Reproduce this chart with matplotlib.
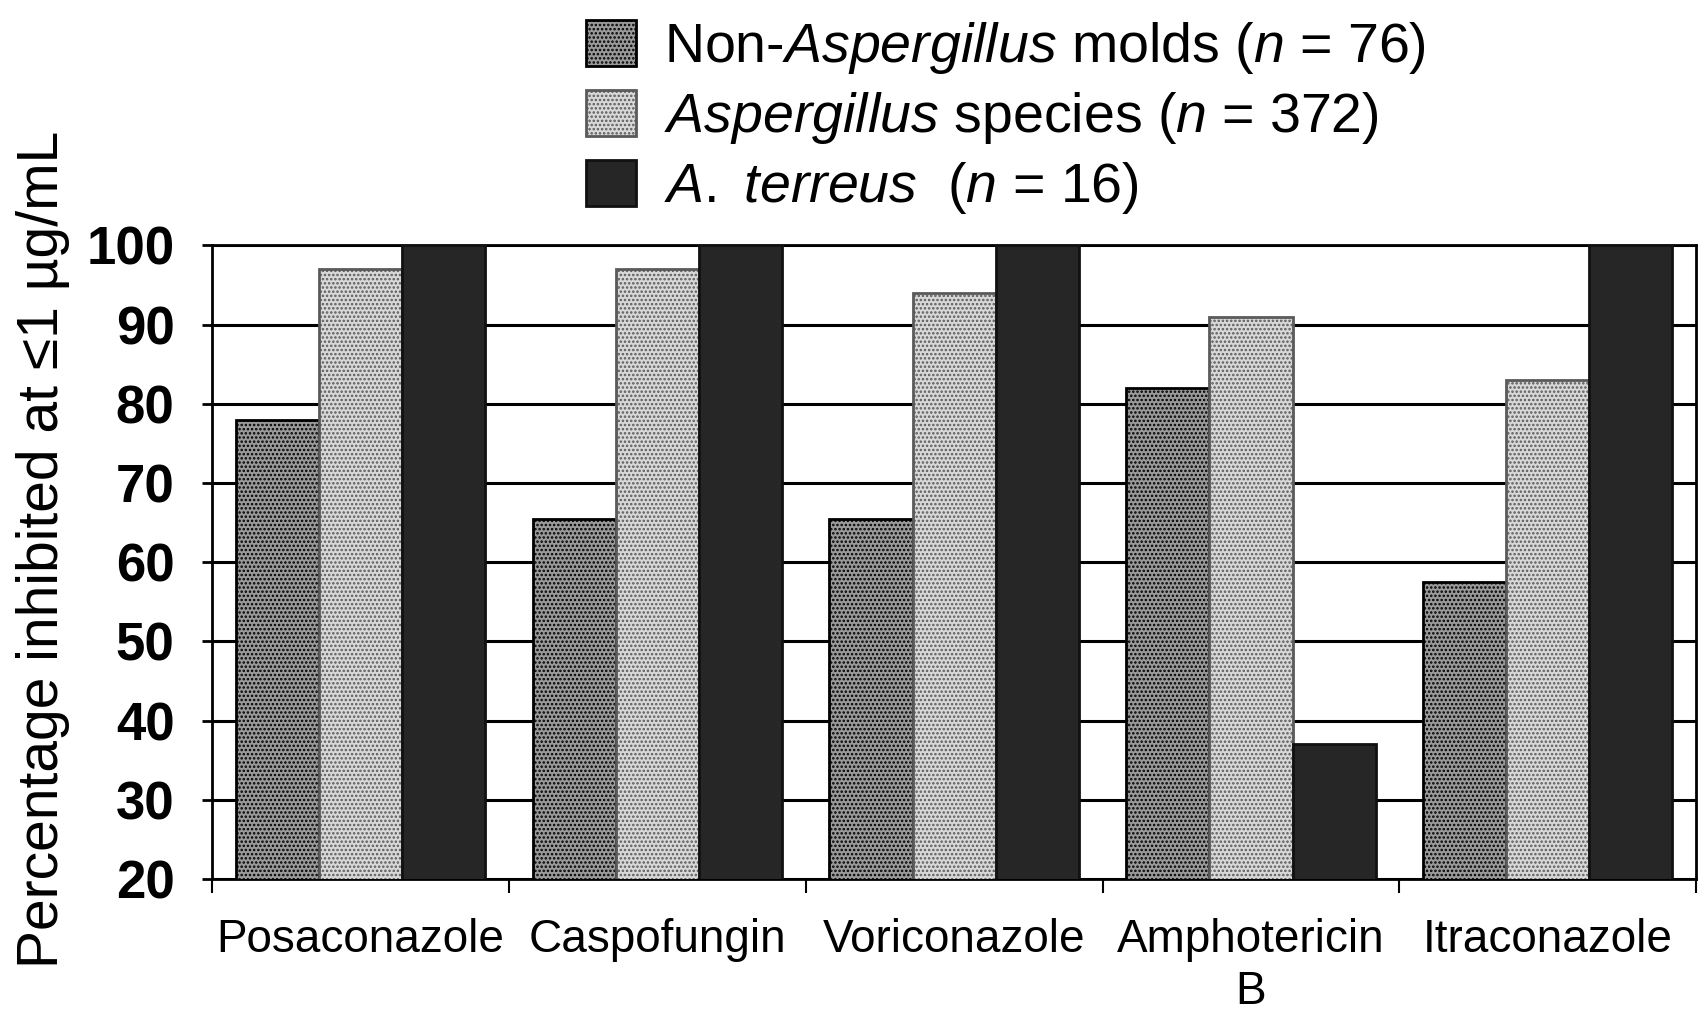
import numpy as np
import matplotlib.pyplot as plt

drugs = ["Posaconazole", "Caspofungin", "Voriconazole", "Amphotericin\nB", "Itraconazole"]
non_asp = [78, 65.5, 65.5, 82, 57.5]
asp_species = [97, 97, 94, 91, 83]
a_terreus = [100, 100, 100, 37, 100]
labels = [
    r"Non-$\mathit{Aspergillus}$ molds ($\mathit{n}$ = 76)",
    r"$\mathit{Aspergillus}$ species ($\mathit{n}$ = 372)",
    r"$\mathit{A.}$ $\mathit{terreus}$  ($\mathit{n}$ = 16)",
]

plt.rcParams["font.family"] = ["Liberation Sans", "DejaVu Sans"]
plt.rcParams["mathtext.fontset"] = "custom"
plt.rcParams["mathtext.rm"] = "Liberation Sans"
plt.rcParams["mathtext.it"] = "Liberation Sans:italic"
plt.rcParams["hatch.linewidth"] = 1.2

fig = plt.figure(figsize=(17.02, 10.18), dpi=100)
ax = fig.add_axes([0.1246, 0.1365, 0.872, 0.6225])

x = np.arange(len(drugs))
w = 0.28
styles = [
    dict(color="#9a9a9a", edgecolor="black", hatch="...."),
    dict(color="#d8d8d8", edgecolor="#5a5a5a", hatch="...."),
    dict(color="#262626", edgecolor="#111111"),
]
series = [non_asp, asp_species, a_terreus]
for i, (vals, lab, st) in enumerate(zip(series, labels, styles)):
    ax.bar(x + (i - 1) * w, vals, w, label=lab, linewidth=2, zorder=3, **st)

ax.set_ylim(20, 100)
ax.set_xlim(-0.5, 4.5)
ax.set_yticks(range(20, 101, 10))
ax.yaxis.grid(True, color="black", linewidth=2.2, zorder=0)
ax.set_axisbelow(True)
for s in ax.spines.values():
    s.set_linewidth(2)
    s.set_color("black")

ax.tick_params(axis="y", length=7, width=2, pad=20, labelsize=38)
for t in ax.get_yticklabels():
    t.set_fontweight("bold")

ax.set_xticks(x)
ax.set_xticklabels(drugs, fontsize=33, linespacing=1.25)
ax.set_xticks(np.arange(-0.5, 5, 1), minor=True)
ax.tick_params(axis="x", which="major", length=0, pad=28)
ax.tick_params(axis="x", which="minor", length=10, width=1.5)

ax.set_ylabel("Percentage inhibited at \u22641 \u00b5g/mL", fontsize=41)
ax.yaxis.set_label_coords(-0.096, 0.52)

fig.legend(loc="upper left", bbox_to_anchor=(0.328, 1.008), frameon=False, fontsize=40,
           handlelength=0.9, handleheight=0.9, handletextpad=0.5, labelspacing=0.25,
           borderpad=0.0)

fig.savefig("out.png", dpi=100)
